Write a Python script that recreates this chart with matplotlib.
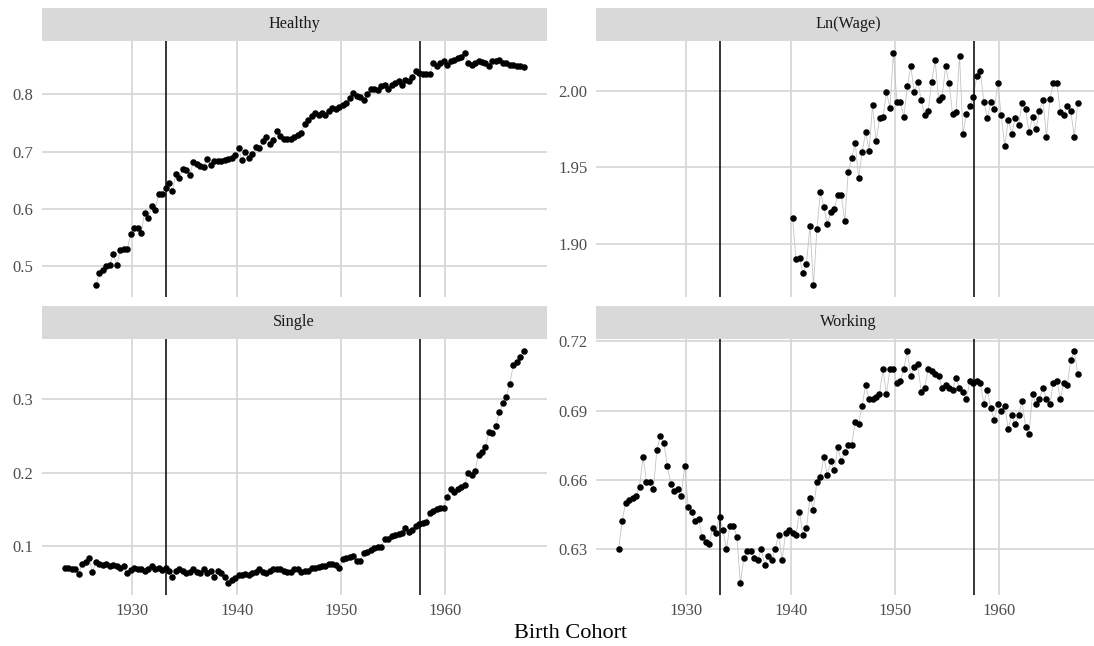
import numpy as np
import matplotlib
matplotlib.use('Agg')
import matplotlib.pyplot as plt

# figure size in pixels (dpi 100)
W = 1094
H = 646

plt.rcParams['font.family'] = ['Liberation Serif', 'DejaVu Serif']

# cohorts come in thirds of a year
STEP = 1.0 / 3.0

healthy_start = 1926.5
healthy = [0.467, 0.489,
           0.494, 0.500, 0.503, 0.521, 0.502, 0.529, 0.530, 0.530, 0.557,
           0.567, 0.567, 0.559, 0.593, 0.585, 0.605, 0.598, 0.626, 0.627,
           0.637, 0.646, 0.632, 0.661, 0.655, 0.670, 0.668, 0.660, 0.683,
           0.678, 0.675, 0.673, 0.688, 0.677, 0.684, 0.684, 0.684, 0.685,
           0.688, 0.690, 0.695, 0.706, 0.685, 0.700, 0.690, 0.697, 0.708,
           0.706, 0.718, 0.725, 0.713, 0.720, 0.736, 0.727, 0.723, 0.723,
           0.723, 0.725, 0.730, 0.733, 0.749, 0.755, 0.762, 0.768, 0.765,
           0.768, 0.765, 0.771, 0.777, 0.775, 0.778, 0.781, 0.785, 0.794,
           0.803, 0.797, 0.795, 0.791, 0.800, 0.809, 0.810, 0.808, 0.814,
           0.816, 0.810, 0.816, 0.820, 0.823, 0.816, 0.826, 0.823, 0.830,
           0.841, 0.838, 0.835, 0.835, 0.835, 0.855, 0.850, 0.855, 0.858,
           0.852, 0.858, 0.860, 0.864, 0.866, 0.873, 0.855, 0.852, 0.855,
           0.858, 0.856, 0.855, 0.850, 0.858, 0.858, 0.861, 0.855, 0.855,
           0.852, 0.852, 0.850, 0.849, 0.848]

wage_start = 1940.17
lnwage = [1.917, 1.890, 1.891, 1.881, 1.887, 1.912, 1.873, 1.910, 1.934,
          1.924, 1.913, 1.921, 1.923, 1.932, 1.932, 1.915, 1.947, 1.956,
          1.966, 1.943, 1.960, 1.973, 1.961, 1.991, 1.967, 1.982, 1.983,
          1.999, 1.989, 2.025, 1.993, 1.993, 1.983, 2.003, 2.016, 1.999,
          2.006, 1.994, 1.984, 1.987, 2.006, 2.020, 1.994, 1.996, 2.016,
          2.005, 1.985, 1.986, 2.023, 1.972, 1.985, 1.990, 1.996, 2.010,
          2.013, 1.993, 1.982, 1.993, 1.988, 2.005, 1.984, 1.964, 1.981,
          1.972, 1.982, 1.978, 1.992, 1.988, 1.973, 1.983, 1.975, 1.987,
          1.994, 1.970, 1.995, 2.005, 2.005, 1.986, 1.984, 1.990, 1.987,
          1.970, 1.992]

single_start = 1923.5
single = [0.070, 0.070, 0.069, 0.069, 0.062, 0.075, 0.078, 0.083, 0.064,
          0.078, 0.076, 0.074, 0.075, 0.072, 0.074, 0.073, 0.070, 0.072,
          0.063, 0.067, 0.070, 0.068, 0.068, 0.066, 0.068, 0.072, 0.068,
          0.070, 0.067, 0.070, 0.066, 0.058, 0.066, 0.068, 0.066, 0.063,
          0.065, 0.068, 0.065, 0.063, 0.069, 0.063, 0.066, 0.058, 0.066,
          0.063, 0.058, 0.049, 0.053, 0.056, 0.060, 0.060, 0.062, 0.061,
          0.063, 0.064, 0.068, 0.065, 0.063, 0.066, 0.068, 0.068, 0.069,
          0.066, 0.064, 0.065, 0.068, 0.068, 0.065, 0.066, 0.066, 0.070,
          0.070, 0.071, 0.072, 0.072, 0.076, 0.075, 0.074, 0.070, 0.082,
          0.083, 0.085, 0.086, 0.079, 0.080, 0.090, 0.092, 0.095, 0.097,
          0.099, 0.099, 0.109, 0.110, 0.114, 0.115, 0.116, 0.117, 0.124,
          0.119, 0.122, 0.127, 0.130, 0.131, 0.132, 0.145, 0.148, 0.150,
          0.151, 0.152, 0.167, 0.178, 0.174, 0.177, 0.180, 0.183, 0.200,
          0.197, 0.202, 0.224, 0.228, 0.235, 0.255, 0.254, 0.263, 0.282,
          0.294, 0.303, 0.321, 0.346, 0.351, 0.358, 0.366]

working_start = 1923.5
working = [0.630, 0.642, 0.650, 0.651, 0.652, 0.653, 0.657, 0.670, 0.659,
           0.659, 0.656, 0.673, 0.679, 0.676, 0.666, 0.658, 0.655, 0.656,
           0.653, 0.666, 0.648, 0.646, 0.642, 0.643, 0.635, 0.633, 0.632,
           0.639, 0.637, 0.644, 0.638, 0.630, 0.640, 0.640, 0.635, 0.615,
           0.626, 0.629, 0.629, 0.626, 0.625, 0.630, 0.623, 0.627, 0.625,
           0.630, 0.636, 0.625, 0.637, 0.638, 0.637, 0.636, 0.646, 0.636,
           0.639, 0.652, 0.647, 0.659, 0.661, 0.670, 0.662, 0.668, 0.664,
           0.674, 0.668, 0.672, 0.675, 0.675, 0.685, 0.684, 0.692, 0.701,
           0.695, 0.695, 0.696, 0.697, 0.708, 0.697, 0.708, 0.708, 0.702,
           0.703, 0.708, 0.716, 0.705, 0.709, 0.710, 0.698, 0.700, 0.708,
           0.707, 0.706, 0.705, 0.700, 0.701, 0.700, 0.699, 0.704, 0.700,
           0.698, 0.695, 0.703, 0.702, 0.703, 0.702, 0.693, 0.699, 0.691,
           0.686, 0.693, 0.690, 0.692, 0.682, 0.688, 0.684, 0.688, 0.694,
           0.683, 0.680, 0.697, 0.693, 0.695, 0.700, 0.695, 0.693, 0.702,
           0.703, 0.695, 0.702, 0.701, 0.712, 0.716, 0.706]

cutoffs = [1933.2, 1957.6]

# facet: title, start, values, yticks, tick format
facets = [
    ('Healthy', healthy_start, healthy, [0.5, 0.6, 0.7, 0.8], '%.1f'),
    ('Ln(Wage)', wage_start, lnwage, [1.90, 1.95, 2.00], '%.2f'),
    ('Single', single_start, single, [0.1, 0.2, 0.3], '%.1f'),
    ('Working', working_start, working, [0.63, 0.66, 0.69, 0.72], '%.2f'),
]

# panel boxes in pixels: x0, y0(top), x1, y1(bottom)
panel_px = [(41.7, 41, 546.7, 297), (595.7, 41, 1100.7, 297),
            (41.7, 339, 546.7, 595), (595.7, 339, 1100.7, 595)]
strip_h = 33


def px_rect(x0, y0, x1, y1):
    return [x0 / W, 1 - y1 / H, (x1 - x0) / W, (y1 - y0) / H]


# shared x range with 5% padding like ggplot
xs_all = []
for f in facets:
    xs_all.append(f[1])
    xs_all.append(f[1] + (len(f[2]) - 1) * STEP)
xmin, xmax = min(xs_all), max(xs_all)
xpad = (xmax - xmin) * 0.05

fig = plt.figure(figsize=(W / 100, H / 100), dpi=100)

for i, (title, start, vals, yt, fmt) in enumerate(facets):
    x0, y0, x1, y1 = panel_px[i]
    ax = fig.add_axes(px_rect(x0, y0, x1, y1))
    xx = start + np.arange(len(vals)) * STEP
    ax.plot(xx, vals, color='#C4C4C4', lw=0.6, zorder=2)
    ax.scatter(xx, vals, s=22, color='black', linewidths=0, zorder=3)
    for c in cutoffs:
        ax.axvline(c, color='black', lw=1.1, zorder=4)

    ax.set_xlim(xmin - xpad, xmax + xpad)
    vmin, vmax = min(vals), max(vals)
    ypad = (vmax - vmin) * 0.05
    ax.set_ylim(vmin - ypad, vmax + ypad)
    ax.set_yticks(yt)
    ax.set_yticklabels([fmt % v for v in yt])
    ax.set_xticks([1930, 1940, 1950, 1960])
    if i < 2:
        ax.set_xticklabels([])
    ax.grid(color='#D4D4D4', lw=1.2)
    ax.set_axisbelow(True)
    for s in ax.spines.values():
        s.set_visible(False)
    ax.tick_params(length=0, labelsize=12, labelcolor='#4D4D4D', pad=6)

    # strip on top of the panel
    sx = fig.add_axes(px_rect(x0, y0 - strip_h, x1, y0))
    sx.set_facecolor('#D9D9D9')
    sx.set_xticks([])
    sx.set_yticks([])
    for s in sx.spines.values():
        s.set_visible(False)
    sx.text(0.5, 0.5, title, ha='center', va='center', fontsize=11.7,
            color='#1A1A1A', transform=sx.transAxes)

fig.text(571 / W, 1 - 633 / H, 'Birth Cohort', ha='center', va='center',
         fontsize=16, color='black')

fig.savefig('out.png', dpi=100)
